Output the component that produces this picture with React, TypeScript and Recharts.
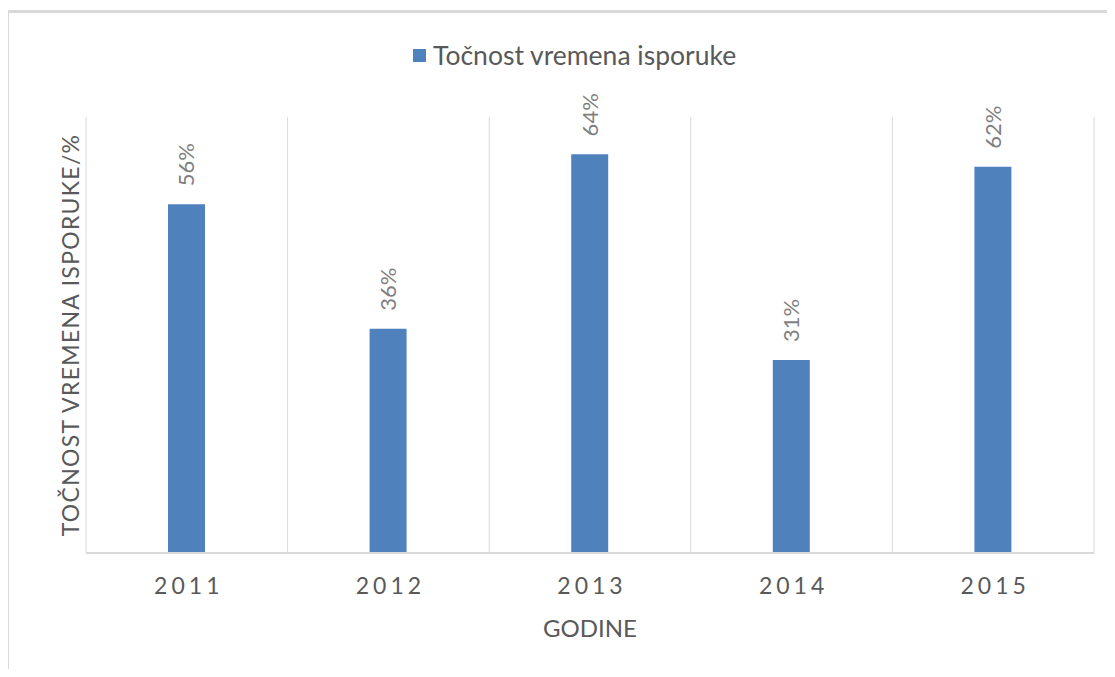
import React from 'react';
import { BarChart, Bar, XAxis, YAxis, CartesianGrid, Legend, LabelList, Label } from 'recharts';

const categories = ['2011', '2012', '2013', '2014', '2015'];
const values = [56, 36, 64, 31, 62];
const seriesName = 'Točnost vremena isporuke';
const yTitle = 'TOČNOST VREMENA ISPORUKE/%';
const xTitle = 'GODINE';
const yDomain = [0, 70];

const data = categories.map((c, i) => ({ year: c, value: values[i] }));

const FONT = 'Lato, "Open Sans", sans-serif';
const BLUE = '#4f81bd';
const GRID = '#d9d9d9';
const TEXT = '#595959';

const XTick = (props: any) => {
  const { x, y, payload } = props;
  return (
    <text x={x + 2} y={y + 41} textAnchor="middle" fill={TEXT} fontSize={23} fontFamily={FONT} letterSpacing={4}>
      {payload.value}
    </text>
  );
};

const ValueLabel = (props: any) => {
  const { x, y, width, value } = props;
  const cx = x + width / 2 + 8;
  const ty = y - 18;
  return (
    <text
      x={cx}
      y={ty}
      transform={`rotate(-90, ${cx}, ${ty})`}
      textAnchor="start"
      fill="#7f7f7f"
      fontSize={22}
      fontFamily={FONT}
    >
      {`${value}%`}
    </text>
  );
};

const LegendContent = () => (
  <div style={{ display: 'flex', alignItems: 'center', height: 30, fontFamily: FONT, fontSize: 26.5, color: TEXT, whiteSpace: 'nowrap' }}>
    <span style={{ display: 'inline-block', width: 13, height: 13, background: BLUE, marginRight: 7 }} />
    <span>{seriesName}</span>
  </div>
);

const YTitle = (props: any) => {
  const vb = props.viewBox || {};
  const cx = 79;
  const cy = (vb.y ?? 117) + (vb.height ?? 436) / 2;
  return (
    <text
      x={cx}
      y={cy}
      transform={`rotate(-90, ${cx}, ${cy})`}
      textAnchor="middle"
      fill={TEXT}
      fontSize={23}
      letterSpacing={1.3}
      fontFamily={FONT}
    >
      {yTitle}
    </text>
  );
};

const XTitle = (props: any) => {
  const vb = props.viewBox || {};
  const cx = (vb.x ?? 86) + (vb.width ?? 1008) / 2;
  return (
    <text x={cx} y={637} textAnchor="middle" fill={TEXT} fontSize={24} fontFamily={FONT}>
      {xTitle}
    </text>
  );
};

export default function App() {
  return (
    <div style={{ position: 'relative', width: 1115, height: 677, margin: -8, overflow: 'hidden', background: '#fff' }}>
      <div
        style={{
          position: 'absolute',
          left: 6,
          top: 10,
          width: 1300,
          height: 900,
          borderLeft: `3px solid ${GRID}`,
          borderTop: `3px solid ${GRID}`,
        }}
      />
      <div style={{ position: 'absolute', left: 0, top: 0 }}>
        <BarChart width={1115} height={677} data={data} margin={{ top: 87, right: 21, bottom: 24, left: 20 }}>
          <CartesianGrid
            horizontal={false}
            stroke={GRID}
            verticalCoordinatesGenerator={({ offset }: any) =>
              Array.from({ length: categories.length + 1 }, (_, i) => offset.left + (i * offset.width) / categories.length)
            }
          />
          <XAxis
            dataKey="year"
            height={100}
            axisLine={{ stroke: GRID, strokeWidth: 2 }}
            tickLine={false}
            tickSize={0}
            tickMargin={0}
            tick={<XTick />}
            interval={0}
          >
            <Label content={<XTitle />} />
          </XAxis>
          <YAxis width={66} domain={yDomain} tick={false} axisLine={false} tickLine={false}>
            <Label content={<YTitle />} />
          </YAxis>
          <Legend verticalAlign="top" content={<LegendContent />} wrapperStyle={{ top: 40, left: 413, width: 'auto' }} />
          <Bar dataKey="value" name={seriesName} fill={BLUE} barSize={37} isAnimationActive={false}>
            <LabelList dataKey="value" content={<ValueLabel />} />
          </Bar>
        </BarChart>
      </div>
    </div>
  );
}
